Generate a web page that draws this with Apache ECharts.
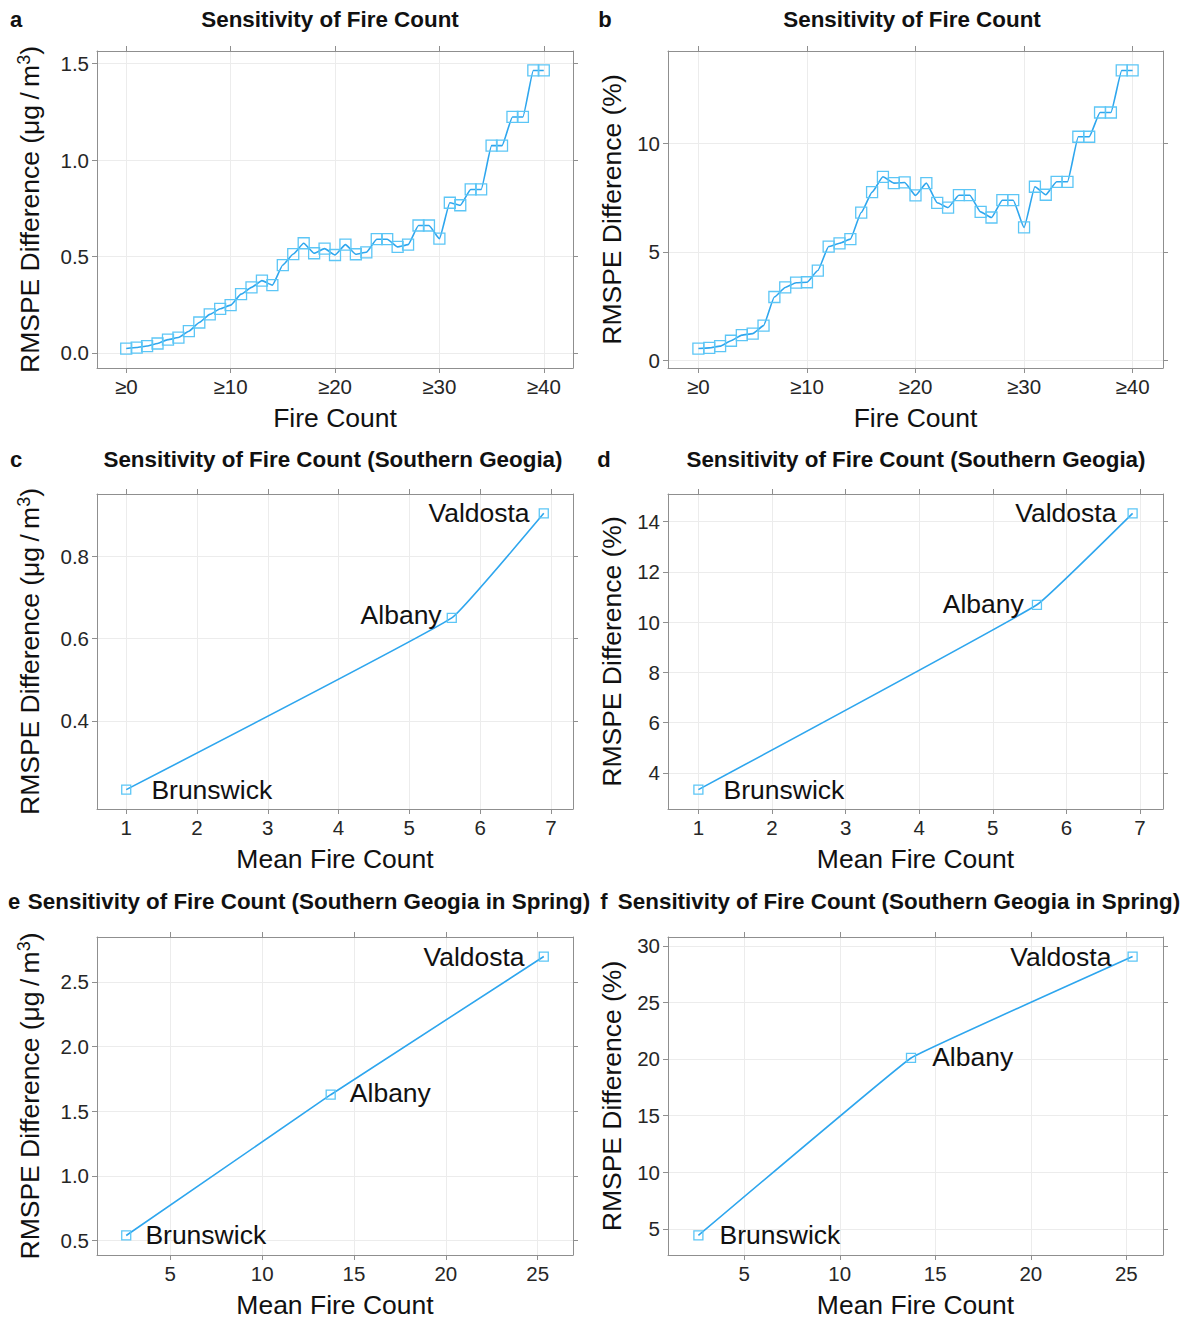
<!DOCTYPE html>
<html><head><meta charset="utf-8">
<script src="https://cdn.jsdelivr.net/npm/echarts@6/dist/echarts.min.js"></script>
<style>html,body{margin:0;padding:0;background:#fff}#c{width:1197px;height:1321px}</style>
</head><body><div id="c"></div>
<script>
// ---------- data ----------
const fireThreshold = [0,1,2,3,4,5,6,7,8,9,10,11,12,13,14,15,16,17,18,19,20,21,22,23,24,25,26,27,28,29,30,31,32,33,34,35,36,37,38,39,40];
const rmspeDiffUg = [0.023,0.028,0.036,0.049,0.069,0.080,0.113,0.158,0.200,0.229,0.248,0.305,0.340,0.375,0.352,0.456,0.513,0.569,0.517,0.541,0.508,0.562,0.512,0.522,0.590,0.590,0.550,0.562,0.661,0.661,0.593,0.779,0.766,0.848,0.848,1.075,1.075,1.224,1.224,1.465,1.465];
const rmspeDiffPct = [0.54,0.57,0.65,0.90,1.16,1.23,1.60,2.92,3.36,3.58,3.60,4.14,5.25,5.40,5.59,6.82,7.76,8.47,8.18,8.21,7.61,8.18,7.27,7.05,7.62,7.62,6.85,6.59,7.39,7.39,6.13,8.01,7.64,8.24,8.24,10.32,10.32,11.44,11.44,13.38,13.38];

const sites = ['Brunswick','Albany','Valdosta'];
const meanFireCount = [1.0, 5.6, 6.9];
const southUg = [0.233, 0.650, 0.904];
const southPct = [3.33, 10.69, 14.33];
const springMeanFireCount = [2.6, 13.73, 25.33];
const springUg = [0.539, 1.627, 2.695];
const springPct = [4.41, 20.09, 29.05];

const ticksThreshold = [0,10,20,30,40];
const ticksMean = [1,2,3,4,5,6,7];
const ticksSpringMean = [5,10,15,20,25];
const ticksUgA = [0,0.5,1.0,1.5];
const ticksPctB = [0,5,10];
const ticksUgC = [0.4,0.6,0.8];
const ticksPctD = [4,6,8,10,12,14];
const ticksUgE = [0.5,1.0,1.5,2.0,2.5];
const ticksPctF = [5,10,15,20,25,30];

const titleMain = 'Sensitivity of Fire Count';
const titleSouth = 'Sensitivity of Fire Count (Southern Geogia)';
const titleSpring = 'Sensitivity of Fire Count (Southern Geogia in Spring)';
const xNameThreshold = 'Fire Count';
const xNameMean = 'Mean Fire Count';
const yNameUg = '{n|RMSPE Difference (μg\u2009/\u2009m}{s|3}{n|)}';
const yNamePct = '{n|RMSPE Difference (%)}';

// ---------- styling / layout ----------
const FONT = "'Liberation Sans', Arial, Helvetica, sans-serif";
const LINE = '#2ea6ee';
const MARK = '#5cc6f6';
const BOX = '#8f8f8f';
const GRIDC = '#ececec';
const TXT = 26.5;

function pad(arr){ const mn=Math.min(...arr), mx=Math.max(...arr), r=mx-mn; return [mn-0.07*r, mx+0.07*r]; }
const fmt1 = v => v.toFixed(1);
const fmt0 = v => String(Math.round(v));
const fmtGe = v => '\u2265' + Math.round(v);

const col1 = {left:97, width:476, nameGap:52};
const col2 = {left:668, width:495, nameGap:41};
const row1 = {top:51, height:317};
const row2 = {top:494, height:315};
const row3 = {top:937, height:318};

const panels = [
  {col:col1,row:row1,x:fireThreshold,y:rmspeDiffUg,xt:ticksThreshold,yt:ticksUgA,xf:fmtGe,yf:fmt1,xn:xNameThreshold,yn:yNameUg,sym:11,smooth:0.15,mono:'x'},
  {col:col2,row:row1,x:fireThreshold,y:rmspeDiffPct,xt:ticksThreshold,yt:ticksPctB,xf:fmtGe,yf:fmt0,xn:xNameThreshold,yn:yNamePct,sym:11,smooth:0.15,mono:'x'},
  {col:col1,row:row2,x:meanFireCount,y:southUg,xt:ticksMean,yt:ticksUgC,xf:fmt0,yf:fmt1,xn:xNameMean,yn:yNameUg,sym:9,smooth:0.08,
    lab:[['right',20,0],['left',5,-3],['left',9,0]]},
  {col:col2,row:row2,x:meanFireCount,y:southPct,xt:ticksMean,yt:ticksPctD,xf:fmt0,yf:fmt0,xn:xNameMean,yn:yNamePct,sym:9,smooth:0.08,
    lab:[['right',20,0],['left',8,-1],['left',11,0]]},
  {col:col1,row:row3,x:springMeanFireCount,y:springUg,xt:ticksSpringMean,yt:ticksUgE,xf:fmt0,yf:fmt1,xn:xNameMean,yn:yNameUg,sym:9,smooth:false,
    lab:[['right',14,0],['right',14,-2],['left',14,0]]},
  {col:col2,row:row3,x:springMeanFireCount,y:springPct,xt:ticksSpringMean,yt:ticksPctF,xf:fmt0,yf:fmt0,xn:xNameMean,yn:yNamePct,sym:9,smooth:0.05,
    lab:[['right',16,0],['right',16,-1],['left',16,0]]}
];

const grid=[], xAxis=[], yAxis=[], series=[];
const tickStyle = {color:BOX, width:1};
const nameStyleBase = {fontFamily:FONT, fontSize:TXT, color:'#111',
  rich:{n:{fontFamily:FONT,fontSize:TXT,color:'#111',lineHeight:30,verticalAlign:'middle'},
        s:{fontFamily:FONT,fontSize:18,color:'#111',lineHeight:16,verticalAlign:'top'}}};

panels.forEach((p,i)=>{
  grid.push({left:p.col.left, top:p.row.top, width:p.col.width, height:p.row.height});
  const xr = pad(p.x), yr = pad(p.y);
  const common = (ticks)=>({axisLine:{show:true,onZero:false,lineStyle:{color:BOX,width:1}},
    axisTick:{show:true,length:5,customValues:ticks,lineStyle:tickStyle}});
  xAxis.push(Object.assign({gridIndex:i,type:'value',min:xr[0],max:xr[1],position:'bottom',
    axisLabel:{customValues:p.xt,formatter:p.xf,margin:8,fontSize:20.5,color:'#262626',fontFamily:FONT},
    splitLine:{show:true,lineStyle:{color:GRIDC,width:1}},
    name:p.xn,nameLocation:'middle',nameGap:35,
    nameTextStyle:{fontFamily:FONT,fontSize:TXT,color:'#111',lineHeight:30}}, common(p.xt)));
  xAxis.push(Object.assign({gridIndex:i,type:'value',min:xr[0],max:xr[1],position:'top',
    axisLabel:{show:false},splitLine:{show:false}}, common(p.xt)));
  yAxis.push(Object.assign({gridIndex:i,type:'value',min:yr[0],max:yr[1],position:'left',
    axisLabel:{customValues:p.yt,formatter:p.yf,margin:8,fontSize:20.5,color:'#262626',fontFamily:FONT},
    splitLine:{show:true,lineStyle:{color:GRIDC,width:1}},
    name:p.yn,nameLocation:'middle',nameGap:p.col.nameGap,nameRotate:90,
    nameTextStyle:nameStyleBase}, common(p.yt)));
  yAxis.push(Object.assign({gridIndex:i,type:'value',min:yr[0],max:yr[1],position:'right',
    axisLabel:{show:false},splitLine:{show:false}}, common(p.yt)));

  const data = p.x.map((xv,k)=>{
    const item = {value:[xv,p.y[k]]};
    if (p.lab) {
      const L = p.lab[k];
      item.label = {show:true, position:L[0], distance:L[1], offset:[0,L[2]], formatter:sites[k],
        fontFamily:FONT, fontSize:TXT, color:'#111'};
    }
    return item;
  });
  const s = {type:'line',xAxisIndex:2*i,yAxisIndex:2*i,data:data,smooth:p.smooth,
    symbol:'rect',symbolSize:p.sym,showSymbol:true,
    lineStyle:{color:LINE,width:1.6},
    itemStyle:{color:'rgba(0,0,0,0)',borderColor:MARK,borderWidth:1.3},
    emphasis:{disabled:true},silent:true,z:3};
  if (p.mono) s.smoothMonotone = p.mono;
  series.push(s);
});

const titles = [
  ['a',16,19,titleMain,330,19],
  ['b',605,19,titleMain,912,19],
  ['c',16,459,titleSouth,333,459],
  ['d',604,459,titleSouth,916,459],
  ['e',14,901,titleSpring,309,901],
  ['f',604,901,titleSpring,899,901]
];
const graphic = [];
titles.forEach(t=>{
  graphic.push({type:'text',x:t[1],y:t[2],style:{text:t[0],font:"bold 22px "+FONT,fill:'#111',align:'center',verticalAlign:'middle'}});
  graphic.push({type:'text',x:t[4],y:t[5],style:{text:t[3],font:"bold 22.4px "+FONT,fill:'#111',align:'center',verticalAlign:'middle'}});
});

const chart = echarts.init(document.getElementById('c'), null, {renderer:'svg'});
chart.setOption({animation:false,backgroundColor:'#fff',grid,xAxis,yAxis,series,graphic});
</script></body></html>
